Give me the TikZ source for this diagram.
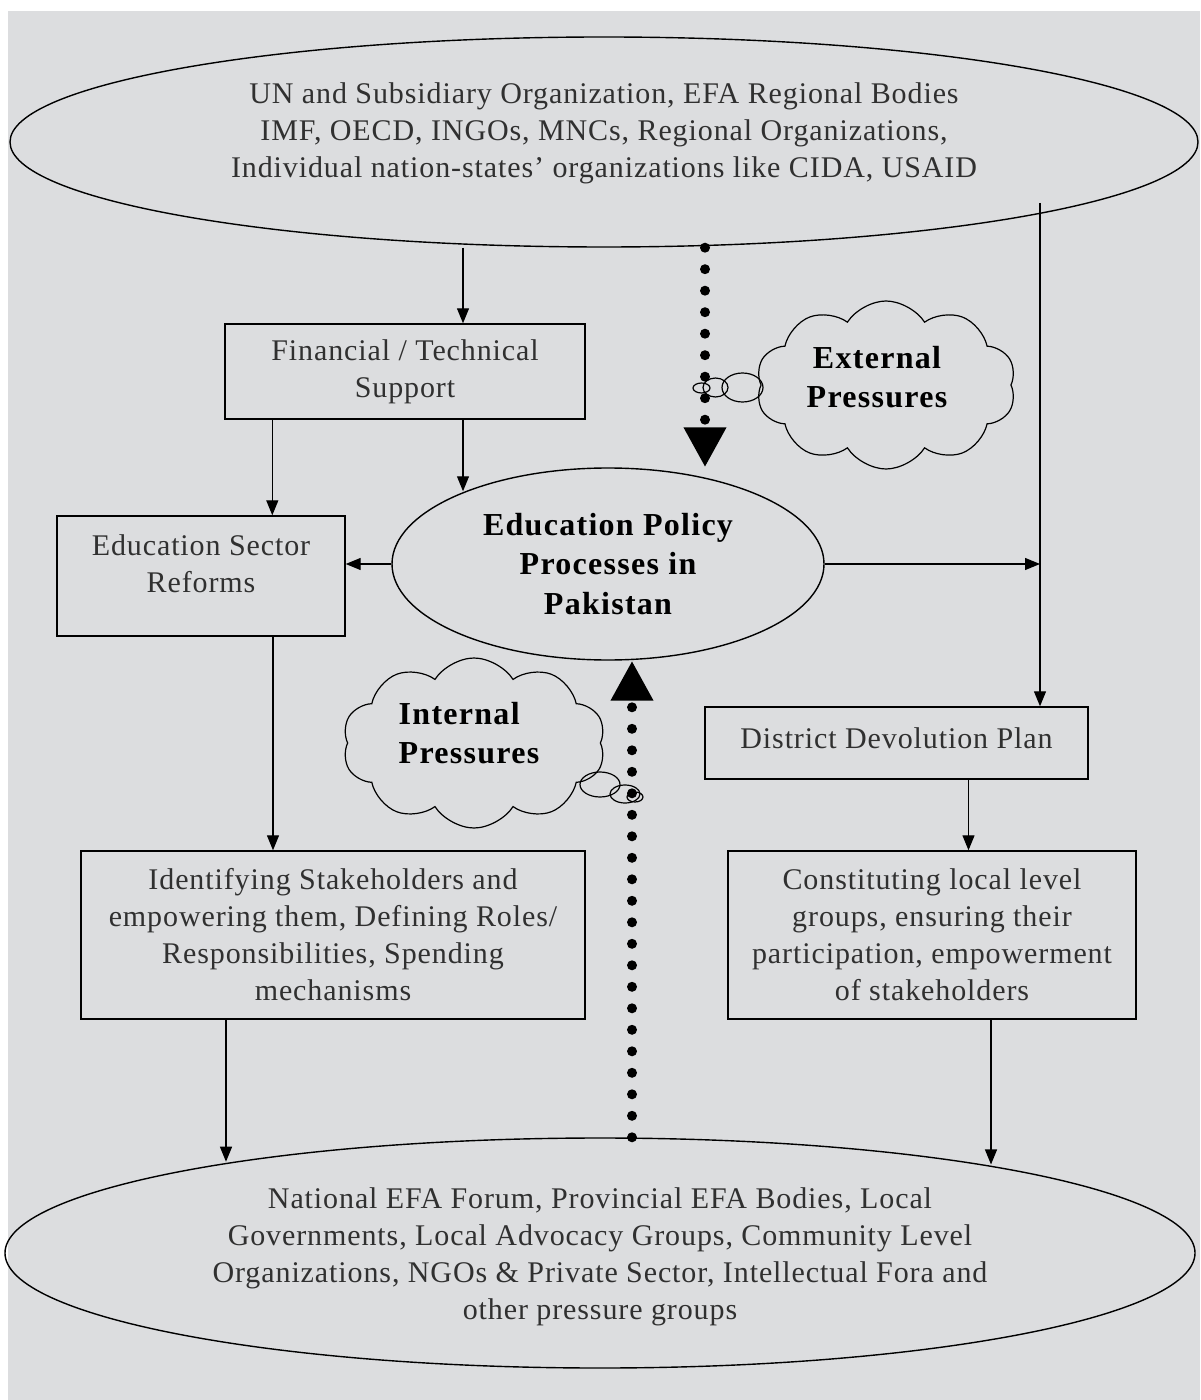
\documentclass[tikz,border=0pt]{standalone}
\usepackage{fontspec}
\setmainfont{Liberation Serif}[LetterSpace=3,BoldFeatures={LetterSpace=4}]
\usetikzlibrary{shapes.geometric}
\usetikzlibrary{shapes.symbols}
\usetikzlibrary{arrows.meta}
\usetikzlibrary{calc}
\definecolor{PanelGrey}{HTML}{DCDDDF}
\definecolor{InkGrey}{HTML}{303030}
\newcommand{\plainfont}{\fontsize{15}{18.5}\selectfont}
\newcommand{\boldfont}{\fontsize{16}{19.75}\selectfont\bfseries}
\tikzset{
  arr/.style={-{Triangle[length=7.5pt,width=6pt]}, line width=0.6pt},
  press/.style={-{Triangle[length=20pt,width=20pt]}, line width=5pt,
    line cap=round, dash pattern=on 0pt off 10.75pt},
  stepbox/.style={draw, rectangle, line width=0.7pt, align=center,
    inner sep=0pt, font=\plainfont, text=InkGrey},
  oval/.style={draw, ellipse, line width=0.7pt, align=center,
    inner sep=0pt, font=\plainfont, text=InkGrey},
  thought/.style={draw, cloud, cloud puffs=10, cloud puff arc=115,
    cloud ignores aspect, line width=0.6pt, inner sep=0pt,
    align=center, font=\boldfont},
  bubble/.style={draw, ellipse, line width=0.6pt, inner sep=0pt},
}

\begin{document}
\begin{tikzpicture}[x=0.5pt,y=-0.5pt]
  \useasboundingbox (0,0) rectangle (1200,1400);
  \fill[PanelGrey] (8,11) rectangle (1200,1400);

  % the three ovals
  \node[oval, minimum width=594pt, minimum height=105pt,
    text depth=12.2pt] (donors) at (604,142)
    {UN and Subsidiary Organization, EFA Regional Bodies\\
     IMF, OECD, INGOs, MNCs, Regional Organizations,\\
     Individual nation-states’ organizations like CIDA, USAID};
  \node[oval, minimum width=216pt, minimum height=96pt, font=\boldfont,
    text=black] (policy) at (608,564)
    {Education Policy\\Processes in\\Pakistan};
  \node[oval, minimum width=595pt, minimum height=115pt,
    text height=70.2pt] (local) at (600,1253)
    {National EFA Forum, Provincial EFA Bodies, Local\\
     Governments, Local Advocacy Groups, Community Level\\
     Organizations, NGOs \& Private Sector, Intellectual Fora and\\
     other pressure groups};

  % boxes
  \node[stepbox, minimum width=180pt, minimum height=47.5pt] (fin)
    at (405,371.5) {Financial / Technical\\Support};
  \node[stepbox, minimum width=144pt, minimum height=60pt,
    text depth=12pt] (esr)
    at (201,576) {Education Sector\\Reforms};
  \node[stepbox, minimum width=191.5pt, minimum height=36pt,
    text depth=5pt] (ddp)
    at (896.5,743) {District Devolution Plan};
  \node[stepbox, minimum width=252pt, minimum height=84pt] (ident)
    at (333,935) {Identifying Stakeholders and\\
     empowering them, Defining Roles/\\
     Responsibilities, Spending\\mechanisms};
  \node[stepbox, minimum width=204pt, minimum height=84pt] (const)
    at (932,935) {Constituting local level\\
     groups, ensuring their\\
     participation, empowerment\\of stakeholders};

  % pressures
  \node[thought, minimum width=130pt, minimum height=84pt,
    text depth=8pt] (ext)
    at (886,385) {External\hspace*{9pt}\\Pressures\hspace*{9pt}};
  \node[thought, minimum width=131.5pt, minimum height=85pt, align=left,
    text depth=10pt] (int)
    at (474,743) {Internal\\Pressures\hspace*{5pt}};
  \node[bubble, minimum width=20.5pt, minimum height=14.5pt] (extbig)
    at (742.5,387.5) {};
  \node[bubble, minimum width=12.5pt, minimum height=9.5pt] (extmid)
    at (715.5,387.5) {};
  \node[bubble, minimum width=8.5pt, minimum height=5pt] (extsmall)
    at (701.5,388) {};
  \node[bubble, minimum width=20pt, minimum height=12.5pt] (intbig)
    at (600,784.5) {};
  \node[bubble, minimum width=15pt, minimum height=9pt] (intmid)
    at (625,794) {};
  \node[bubble, minimum width=8pt, minimum height=5pt] (intsmall)
    at (635,797) {};

  \coordinate (rail) at (1040,203);

  % connectors
  \draw[arr] ([xshift=29pt]fin.north |- donors.south) -- ([xshift=29pt]fin.north);
  \draw[arr] ([xshift=24pt]fin.south west) -- ([xshift=24pt]fin.south west |- esr.north);
  \draw[arr] ([xshift=29pt]fin.south) -- ([xshift=29pt]fin.south |- policy.153);
  \draw[arr] (policy.west) -- (policy.west -| esr.east);
  \draw[arr] (policy.east) -- (policy.east -| rail);
  \draw[arr] (rail) -- (rail |- ddp.north);
  \draw[arr] ([xshift=36pt]ddp.south) -- ([xshift=36pt]ddp.south |- const.north);
  \draw[arr] ([xshift=36pt]esr.south) -- ([xshift=36pt]esr.south |- ident.north);
  \draw[arr] ([xshift=-53.5pt]ident.south) -- ([xshift=-53.5pt]ident.south |- local.166);
  \draw[arr] ([xshift=29.5pt]const.south) -- ([xshift=29.5pt]const.south |- local.13);

  % dotted pressure arrows
  \draw[press] ([xshift=48.5pt]policy.north |- donors.south) -- ([xshift=48.5pt]policy.north);
  \draw[press] ([xshift=12pt]policy.south |- local.north) -- ([xshift=12pt]policy.south);
\end{tikzpicture}
\end{document}
